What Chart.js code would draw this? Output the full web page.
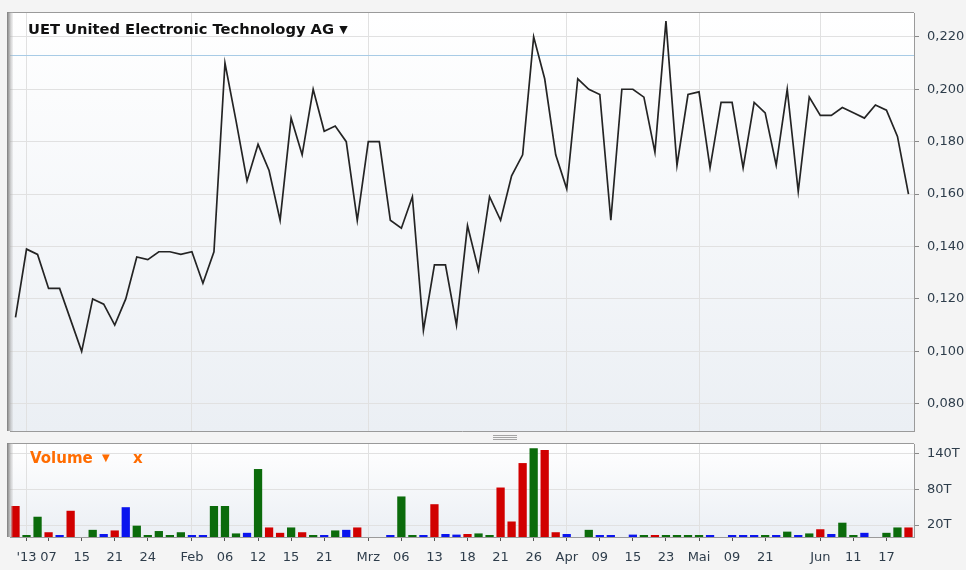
<!DOCTYPE html>
<html lang="de">
<head>
  <meta charset="UTF-8" />
  <title>UET United Electronic Technology AG</title>
  <script src="https://cdn.jsdelivr.net/npm/chart.js"></script>
  <style>
    body {
      margin: 0;
      background: #f4f4f4;
      font-family: "DejaVu Sans", sans-serif;
    }
    #wrap { position: relative; width: 966px; height: 570px; overflow: hidden; }
    canvas { position: absolute; left: 0; }
    #kurs { top: 0; }
    #volumen { top: 440px; }
    .titel {
      position: absolute; left: 28px; top: 21px;
      font: bold 14.7px "DejaVu Sans"; line-height: 16px;
      color: #111; white-space: nowrap;
    }
    .titel span { font-size: 11px; vertical-align: 1px; }
    .vol {
      position: absolute; top: 449px;
      font: bold 15px "DejaVu Sans"; line-height: 18px;
      color: #ff6c00; white-space: nowrap;
    }
    .vol span { font-size: 10px; vertical-align: 2px; margin-left: 4px; }
    .griff { position: absolute; left: 493px; width: 24px; height: 1px; background: #a4a4a4; }
  </style>
</head>
<body>
  <div id="wrap">
    <canvas id="kurs" width="966" height="440"></canvas>
    <canvas id="volumen" width="966" height="130"></canvas>
    <div class="titel">UET United Electronic Technology AG <span>▼</span></div>
    <div class="vol" style="left:30px">Volume <span>▼</span></div>
    <div class="vol" style="left:133px">x</div>
    <div class="griff" style="top:435px"></div>
    <div class="griff" style="top:437px"></div>
    <div class="griff" style="top:439px"></div>
  </div>
  <script>
    // one entry per trading day (Dec '12 - Jun '13)
    const labels = [
      '', "'13", '', '07', '', '', '15', '', '', '21',
      '', '', '24', '', '', '', 'Feb', '', '', '06',
      '', '', '12', '', '', '15', '', '', '21', '',
      '', '', 'Mrz', '', '', '06', '', '', '13', '',
      '', '18', '', '', '21', '', '', '26', '', '',
      'Apr', '', '', '09', '', '', '15', '', '', '23',
      '', '', 'Mai', '', '', '09', '', '', '21', '',
      '', '', '', 'Jun', '', '', '11', '', '', '17',
      '', ''
    ];

    const kurs = [
      0.113, 0.139, 0.137, 0.124, 0.124, 0.112, 0.100, 0.120, 0.118, 0.110,
      0.120, 0.136, 0.135, 0.138, 0.138, 0.137, 0.138, 0.126, 0.138, 0.210,
      0.188, 0.165, 0.179, 0.169, 0.150, 0.189, 0.175, 0.200, 0.184, 0.186,
      0.180, 0.150, 0.180, 0.180, 0.150, 0.147, 0.159, 0.108, 0.133, 0.133,
      0.110, 0.148, 0.131, 0.159, 0.150, 0.167, 0.175, 0.220, 0.204, 0.175,
      0.162, 0.204, 0.200, 0.198, 0.150, 0.200, 0.200, 0.197, 0.176, 0.226,
      0.171, 0.198, 0.199, 0.170, 0.195, 0.195, 0.170, 0.195, 0.191, 0.171,
      0.200, 0.161, 0.197, 0.190, 0.190, 0.193, 0.191, 0.189, 0.194, 0.192,
      0.182, 0.160
    ];

    // Volumen in Tausend Stück
    const volumen = [
      52, 1, 34, 8, 2, 44, null, 12, 5, 11,
      50, 19, 1, 10, 1, 8, 2, 2, 52, 52,
      6, 7, 114, 16, 7, 16, 8, 2, 1, 11,
      12, 16, null, null, 2, 68, 2, 1, 55, 5,
      4, 5, 6, 3, 83, 26, 124, 149, 146, 8,
      5, null, 12, 3, 1, null, 4, 1, 1, 3,
      1, 1, 1, 1, null, 1, 1, 1, 1, 1,
      9, 1, 6, 13, 5, 24, 1, 7, null, 7,
      16, 16
    ];

    // u = steigend, d = fallend, n = unverändert
    const richtung = [
      'd','u','u','d','n','d','n','u','n','d',
      'n','u','u','u','u','u','n','n','u','u',
      'u','n','u','d','d','u','d','u','n','u',
      'n','d','n','n','n','u','u','n','d','n',
      'n','d','u','u','d','d','d','u','d','d',
      'n','n','u','n','n','n','n','u','d','u',
      'u','u','u','n','n','n','n','n','u','n',
      'u','n','u','d','n','u','u','n','n','u',
      'u','d'
    ];

    const kursTicks = [0.08, 0.10, 0.12, 0.14, 0.16, 0.18, 0.20, 0.22];
    const volTicks = [20, 80, 140];
    const referenz = 0.213;

    const farbe = { u: '#0b6b0b', d: '#d10000', n: '#0a14ee' };
    const schrift = { family: 'DejaVu Sans', size: 13 };
    const textFarbe = '#2e3d4b';
    const gitter = '#e1e1e1';
    const monat = i => !!labels[i] && !/^\d+$/.test(labels[i]);

    // right axis: fixed width, no extra label padding above/below the plot
    const rechteAchse = s => {
      s.width = 52;
      s.paddingTop = 0;
      s.paddingBottom = 0;
    };

    const rahmen = {
      id: 'rahmen',
      beforeDraw(chart) {
        const { ctx, chartArea: a } = chart;
        const g = ctx.createLinearGradient(0, a.top, 0, a.bottom);
        g.addColorStop(0, '#ffffff');
        g.addColorStop(1, '#ebeff4');
        ctx.save();
        ctx.fillStyle = g;
        ctx.fillRect(a.left, a.top, a.right - a.left, a.bottom - a.top);
        ctx.restore();
      },
      afterDraw(chart) {
        const { ctx, chartArea: a } = chart;
        ctx.save();
        ctx.fillStyle = '#9a9a9a';
        ctx.fillRect(a.left - 2, a.top - 1, a.right - a.left + 2, 1);
        const s = ctx.createLinearGradient(a.left - 3, 0, a.left + 3, 0);
        s.addColorStop(0, '#7a7a7a');
        s.addColorStop(1, 'rgba(190,190,190,0.2)');
        ctx.fillStyle = s;
        ctx.fillRect(a.left - 3, a.top - 1, 6, a.bottom - a.top + 1);
        ctx.restore();
      }
    };

    const linie = {
      id: 'linie',
      beforeDatasetsDraw(chart) {
        const { ctx, chartArea: a, scales } = chart;
        const y = Math.round(scales.y.getPixelForValue(referenz)) + 0.5;
        ctx.save();
        ctx.strokeStyle = '#a8cbe6';
        ctx.lineWidth = 1;
        ctx.beginPath();
        ctx.moveTo(a.left, y);
        ctx.lineTo(a.right, y);
        ctx.stroke();
        ctx.restore();
      }
    };

    new Chart(document.getElementById('kurs'), {
      type: 'line',
      data: {
        labels,
        datasets: [{
          data: kurs,
          borderColor: '#242424',
          borderWidth: 1.7,
          pointRadius: 0,
          tension: 0
        }]
      },
      options: {
        responsive: false,
        animation: false,
        layout: { padding: { left: 10, top: 13, right: 0, bottom: 9 } },
        plugins: { legend: { display: false }, tooltip: { enabled: false } },
        scales: {
          x: {
            offset: true,
            ticks: { display: false },
            grid: { offset: false, drawTicks: false, color: c => monat(c.index) ? gitter : 'transparent' },
            border: { color: '#9a9a9a' },
            afterFit: s => { s.height = 0; }
          },
          y: {
            position: 'right',
            min: 0.0696,
            max: 0.2291,
            afterBuildTicks: s => { s.ticks = kursTicks.map(v => ({ value: v })); },
            ticks: {
              padding: 8,
              color: textFarbe,
              font: schrift,
              callback: v => v.toFixed(3).replace('.', ',')
            },
            grid: { color: gitter, tickLength: 5, tickColor: '#8a8a8a' },
            border: { color: '#9a9a9a' },
            afterFit: rechteAchse
          }
        }
      },
      plugins: [rahmen, linie]
    });

    new Chart(document.getElementById('volumen'), {
      type: 'bar',
      data: {
        labels,
        datasets: [{
          data: volumen,
          backgroundColor: richtung.map(r => farbe[r]),
          barPercentage: 0.75,
          categoryPercentage: 1,
          minBarLength: 2
        }]
      },
      options: {
        responsive: false,
        animation: false,
        layout: { padding: { left: 10, top: 4, right: 0, bottom: 0 } },
        plugins: { legend: { display: false }, tooltip: { enabled: false } },
        scales: {
          x: {
            ticks: { autoSkip: false, maxRotation: 0, padding: 9, color: textFarbe, font: schrift },
            grid: {
              offset: false,
              tickLength: 4,
              color: c => monat(c.index) ? gitter : 'transparent',
              tickColor: c => labels[c.index] ? '#555' : 'transparent'
            },
            border: { color: '#9a9a9a' },
            afterFit: s => { s.height = 33; }
          },
          y: {
            position: 'right',
            min: 0,
            max: 156,
            afterBuildTicks: s => { s.ticks = volTicks.map(v => ({ value: v })); },
            ticks: { padding: 8, color: textFarbe, font: schrift, callback: v => v + 'T' },
            grid: { color: gitter, tickLength: 5, tickColor: '#8a8a8a' },
            border: { color: '#9a9a9a' },
            afterFit: rechteAchse
          }
        }
      },
      plugins: [rahmen]
    });
  </script>
</body>
</html>
